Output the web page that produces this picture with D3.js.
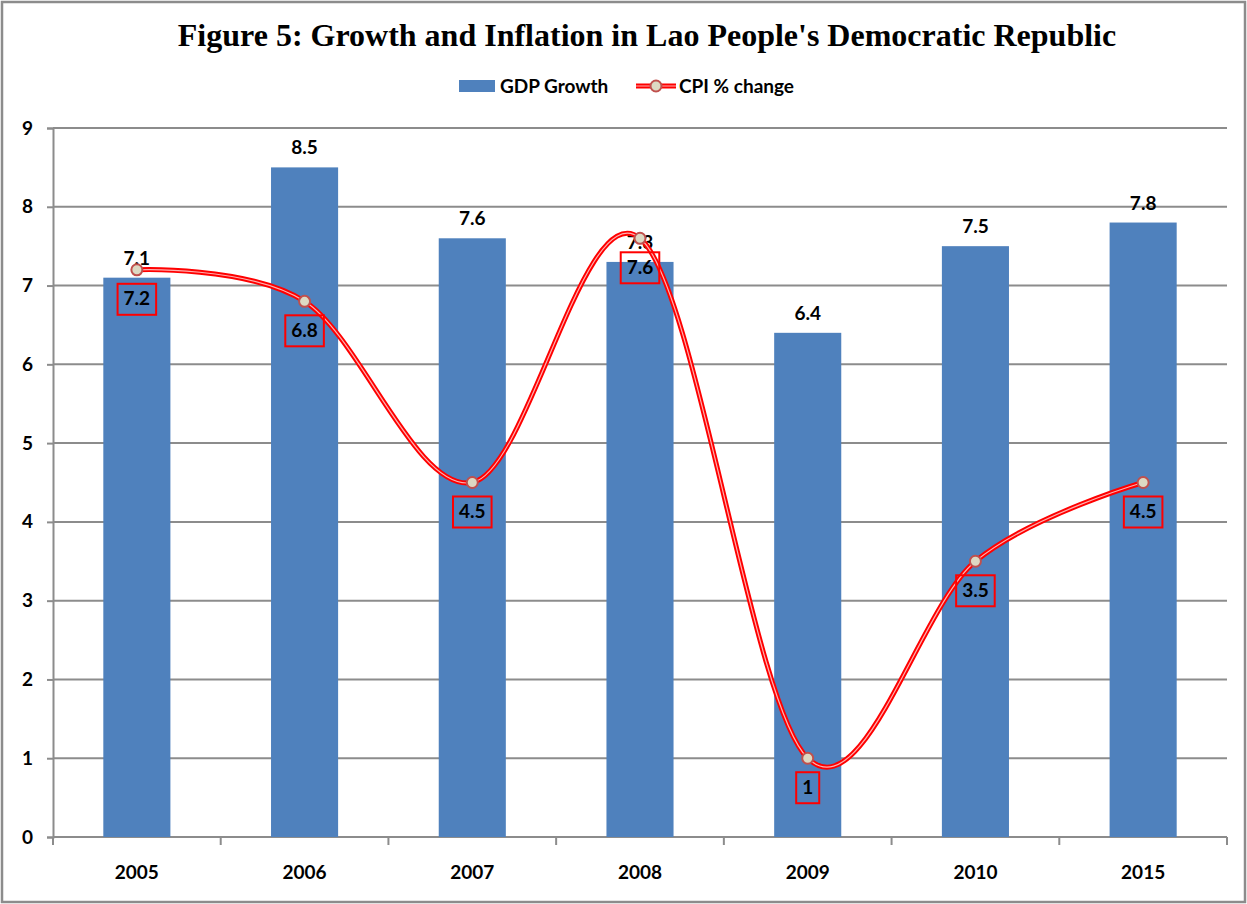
<!DOCTYPE html>
<html>
<head>
<meta charset="utf-8">
<script src="https://cdn.jsdelivr.net/npm/d3@7"></script>
<style>
  html, body { margin: 0; padding: 0; background: #fff; }
  svg { display: block; }
</style>
</head>
<body>
<svg id="chart" width="1247" height="904"></svg>
<script>
// Years on the category axis
const years = ["2005", "2006", "2007", "2008", "2009", "2010", "2015"];
// Real GDP growth, %
const gdpGrowth = [7.1, 8.5, 7.6, 7.3, 6.4, 7.5, 7.8];
// Consumer price index, % change
const cpiChange = [7.2, 6.8, 4.5, 7.6, 1, 3.5, 4.5];
// Value axis ticks
const yTicks = [0, 1, 2, 3, 4, 5, 6, 7, 8, 9];

const svg = d3.select("#chart");
const W = 1247, H = 904;
const margin = { left: 53, right: 20, top: 128, bottom: 67 };
const plotW = W - margin.left - margin.right;
const plotH = H - margin.top - margin.bottom;

const labelFont = "Lato, 'Liberation Sans', sans-serif";
const labelSize = "19px";
const gridColor = "#8c8c8c";

// Outer frame
svg.append("rect")
  .attr("x", 2).attr("y", 2)
  .attr("width", W - 4).attr("height", H - 4)
  .attr("fill", "#fff")
  .attr("stroke", gridColor).attr("stroke-width", 2.5);

// Title
svg.append("text")
  .attr("x", 647).attr("y", 46)
  .attr("text-anchor", "middle")
  .style("font-family", "'Liberation Serif', 'Times New Roman', serif")
  .style("font-weight", "bold")
  .style("font-size", "32px")
  .text("Figure 5: Growth and Inflation in Lao People's Democratic Republic");

const g = svg.append("g").attr("transform", `translate(${margin.left},${margin.top})`);

const x = d3.scaleBand().domain(years).range([0, plotW]).paddingInner(0.6).paddingOuter(0.3);
const xc = d => x(d) + x.bandwidth() / 2;
const y = d3.scaleLinear().domain([0, 9]).range([plotH, 0]);

// Horizontal gridlines
g.append("g")
  .selectAll("line")
  .data(yTicks.filter(t => t > 0))
  .join("line")
  .attr("x1", 0).attr("x2", plotW)
  .attr("y1", d => y(d)).attr("y2", d => y(d))
  .attr("stroke", gridColor).attr("stroke-width", 2);

// Y axis
const yAxis = g.append("g")
  .call(d3.axisLeft(y).tickValues(yTicks).tickSize(6).tickPadding(14).tickFormat(d3.format("d")));
yAxis.select(".domain").attr("stroke", gridColor).attr("stroke-width", 2);
yAxis.selectAll(".tick line").attr("stroke", gridColor).attr("stroke-width", 2);
yAxis.selectAll(".tick text")
  .style("font-family", labelFont).style("font-weight", "bold").style("font-size", labelSize)
  .attr("fill", "#000");

// X axis: ticks sit on category boundaries
const boundaries = years.map((d, i) => i * plotW / years.length).concat([plotW]);
const xAxisG = g.append("g").attr("transform", `translate(0,${plotH})`);
xAxisG.append("line")
  .attr("x1", 0).attr("x2", plotW).attr("y1", 0).attr("y2", 0)
  .attr("stroke", gridColor).attr("stroke-width", 2);
xAxisG.selectAll("line.tk")
  .data(boundaries)
  .join("line").attr("class", "tk")
  .attr("x1", d => d).attr("x2", d => d)
  .attr("y1", 0).attr("y2", 8)
  .attr("stroke", gridColor).attr("stroke-width", 2);
xAxisG.selectAll("text")
  .data(years)
  .join("text")
  .attr("x", d => xc(d)).attr("y", 42)
  .attr("text-anchor", "middle")
  .style("font-family", labelFont).style("font-weight", "bold").style("font-size", labelSize)
  .text(d => d);

// GDP bars
g.append("g")
  .selectAll("rect")
  .data(years)
  .join("rect")
  .attr("x", d => x(d))
  .attr("width", x.bandwidth())
  .attr("y", (d, i) => y(gdpGrowth[i]))
  .attr("height", (d, i) => plotH - y(gdpGrowth[i]))
  .attr("fill", "#4f81bd");

// GDP value labels
g.append("g")
  .selectAll("text")
  .data(years)
  .join("text")
  .attr("x", d => xc(d))
  .attr("y", (d, i) => y(gdpGrowth[i]) - 13)
  .attr("text-anchor", "middle")
  .style("font-family", labelFont).style("font-weight", "bold").style("font-size", labelSize)
  .text((d, i) => gdpGrowth[i]);

// CPI smoothed line: red band with a light core
const line = d3.line()
  .x((d, i) => xc(years[i]))
  .y(d => y(d))
  .curve(d3.curveCardinal.tension(0));
g.append("path")
  .datum(cpiChange)
  .attr("d", line)
  .attr("fill", "none")
  .attr("stroke", "#ff0000").attr("stroke-width", 5);
g.append("path")
  .datum(cpiChange)
  .attr("d", line)
  .attr("fill", "none")
  .attr("stroke", "#ffb0b0").attr("stroke-width", 1.2);

// CPI markers
g.append("g")
  .selectAll("circle")
  .data(cpiChange)
  .join("circle")
  .attr("cx", (d, i) => xc(years[i]))
  .attr("cy", d => y(d))
  .attr("r", 5.5)
  .attr("fill", "#ddd9c3")
  .attr("stroke", "#c0504d").attr("stroke-width", 2);

// CPI value labels in red boxes
const cpiLabels = g.append("g")
  .selectAll("g")
  .data(cpiChange)
  .join("g")
  .attr("transform", (d, i) => `translate(${xc(years[i])},${y(d) + 29})`);
cpiLabels.append("text")
  .attr("text-anchor", "middle")
  .attr("dy", "0.35em")
  .style("font-family", labelFont).style("font-weight", "bold").style("font-size", labelSize)
  .text(d => d)
  .each(function () {
    const b = this.getBBox();
    d3.select(this.parentNode).insert("rect", "text")
      .attr("x", b.x - 6).attr("y", -15)
      .attr("width", b.width + 12).attr("height", 31)
      .attr("fill", "none")
      .attr("stroke", "#ff0000").attr("stroke-width", 2);
  });

// Legend
const legend = svg.append("g").attr("transform", "translate(459,86)");
legend.append("rect")
  .attr("x", 0).attr("y", -6).attr("width", 36).attr("height", 12)
  .attr("fill", "#4f81bd");
legend.append("text")
  .attr("x", 41).attr("y", 0).attr("dy", "0.35em")
  .style("font-family", labelFont).style("font-weight", "bold").style("font-size", labelSize)
  .text("GDP Growth");
legend.append("line")
  .attr("x1", 177).attr("x2", 217).attr("y1", 0).attr("y2", 0)
  .attr("stroke", "#ff0000").attr("stroke-width", 5);
legend.append("line")
  .attr("x1", 177).attr("x2", 217).attr("y1", 0).attr("y2", 0)
  .attr("stroke", "#ffb0b0").attr("stroke-width", 1.2);
legend.append("circle")
  .attr("cx", 197).attr("cy", 0).attr("r", 5.5)
  .attr("fill", "#ddd9c3")
  .attr("stroke", "#c0504d").attr("stroke-width", 2);
legend.append("text")
  .attr("x", 220).attr("y", 0).attr("dy", "0.35em")
  .style("font-family", labelFont).style("font-weight", "bold").style("font-size", labelSize)
  .text("CPI % change");
</script>
</body>
</html>
